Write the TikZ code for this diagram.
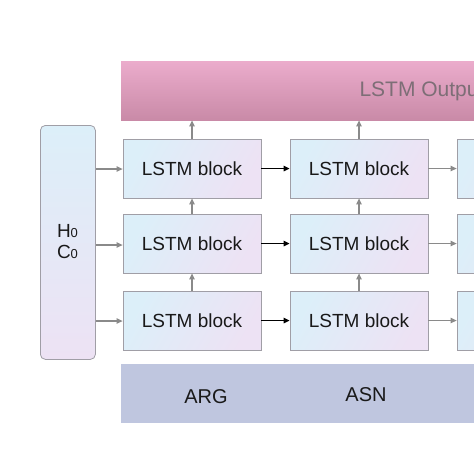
\documentclass[tikz,border=0pt]{standalone}
\usepackage{fontspec}
\setmainfont{Liberation Sans}
\usetikzlibrary{arrows.meta}
\definecolor{pinktop}{HTML}{EBACCC}
\definecolor{pinkbot}{HTML}{C98AA7}
\definecolor{outtext}{HTML}{7D6E76}
\definecolor{blkblue}{HTML}{DCEFF9}
\definecolor{blkpurp}{HTML}{EDE2F4}
\definecolor{blkedge}{HTML}{A09EA6}
\definecolor{barblue}{HTML}{BFC6DF}
\definecolor{arrgray}{HTML}{8A8A8A}
\tikzset{
  lstmbox/.style={draw=blkedge, line width=0.8pt, minimum width=138pt, minimum height=59pt,
    inner sep=0pt, left color=blkblue, right color=blkpurp, shading angle=60,
    font=\fontsize{19}{22}\selectfont, text=black!90},
  garrow/.style={draw=arrgray, line width=1.2pt, -{Triangle[length=6pt,width=5.5pt]}},
  barrow/.style={draw=black, line width=1.3pt, -{Triangle[length=6pt,width=5.5pt]}},
}
\begin{document}
\begin{tikzpicture}[x=1pt,y=-1pt]
\useasboundingbox (0,0) rectangle (474,474);
\clip (0,0) rectangle (474,474);
\fill[white] (0,0) rectangle (474,474);
% output bar
\node[anchor=north west, minimum width=360pt, minimum height=59pt, inner sep=0pt,
  top color=pinktop, bottom color=pinkbot] (out) at (121,61) {};
\node[anchor=west, text=outtext, font=\fontsize{21}{24}\selectfont] (outlabel) at (356,91) {LSTM Output};
% input bar
\node[anchor=north west, minimum width=360pt, minimum height=59pt, inner sep=0pt,
  fill=barblue] (inp) at (121,364) {};
\node[font=\fontsize{20}{24}\selectfont, text=black!90] (arg) at (206,397) {ARG};
\node[font=\fontsize{20}{24}\selectfont, text=black!90] (asn) at (366,395) {ASN};
% H0 C0 box
\node[anchor=north west, draw=blkedge, line width=0.8pt, rounded corners=5pt,
  minimum width=55pt, minimum height=234pt, inner sep=0pt,
  top color=blkblue, bottom color=blkpurp] (hc) at (40,125) {};
\node[font=\fontsize{19}{22}\selectfont, text=black!90, align=center] (hclabel) at (67.5,242)
  {H{\fontsize{13}{15}\selectfont 0}\\[-1pt]C{\fontsize{13}{15}\selectfont 0}};
% blocks
\node[lstmbox] (a1) at (192,168.5) {LSTM block};
\node[lstmbox] (a2) at (192,243.5) {LSTM block};
\node[lstmbox] (a3) at (192,320.5) {LSTM block};
\node[lstmbox] (b1) at (359,168.5) {LSTM block};
\node[lstmbox] (b2) at (359,243.5) {LSTM block};
\node[lstmbox] (b3) at (359,320.5) {LSTM block};
\node[lstmbox] (c1) at (526,168.5) {};
\node[lstmbox] (c2) at (526,243.5) {};
\node[lstmbox] (c3) at (526,320.5) {};
% arrows from H0C0
\coordinate (h1) at (96,169);
\coordinate (h2) at (96,245);
\coordinate (h3) at (96,321);
\draw[garrow] (h1) -- (a1.west |- h1);
\draw[garrow] (h2) -- (a2.west |- h2);
\draw[garrow] (h3) -- (a3.west |- h3);
% horizontal arrows
\draw[barrow] (a1.east) -- (b1.west);
\draw[barrow] (a2.east) -- (b2.west);
\draw[barrow] (a3.east) -- (b3.west);
\draw[garrow] (b1.east) -- (c1.west);
\draw[garrow] (b2.east) -- (c2.west);
\draw[garrow] (b3.east) -- (c3.west);
% vertical arrows
\draw[garrow] (a3.north) -- (a2.south);
\draw[garrow] (a2.north) -- (a1.south);
\draw[garrow] (a1.north) -- (a1.north |- out.south);
\draw[garrow] (b3.north) -- (b2.south);
\draw[garrow] (b2.north) -- (b1.south);
\draw[garrow] (b1.north) -- (b1.north |- out.south);
\end{tikzpicture}
\end{document}
